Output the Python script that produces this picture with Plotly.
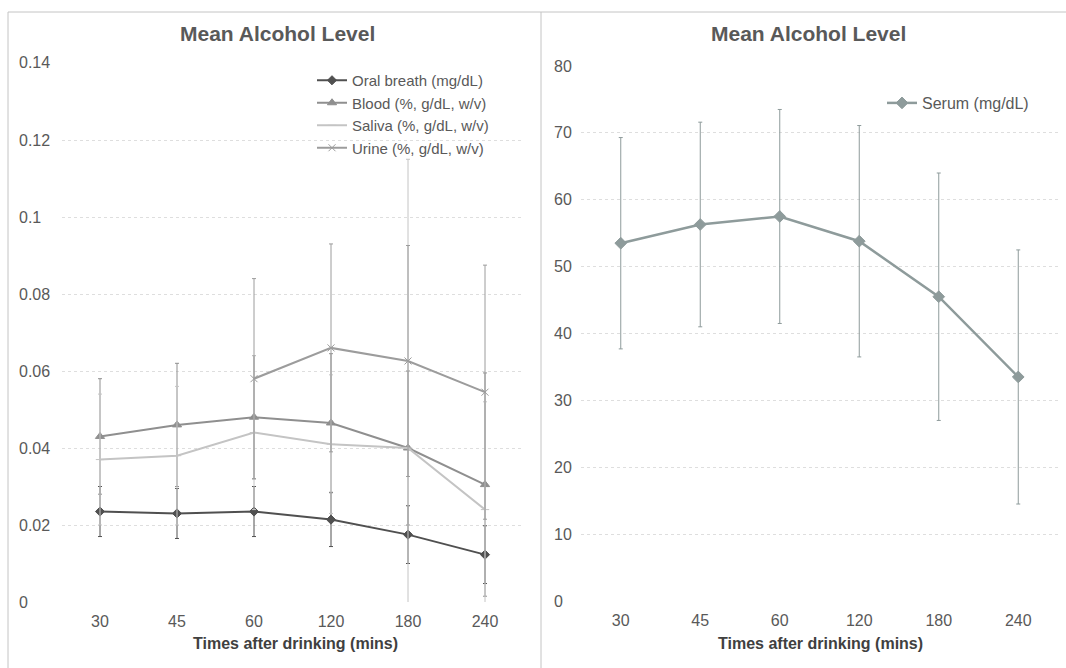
import plotly.graph_objects as go

W, H = 1066, 668

times = ["30", "45", "60", "120", "180", "240"]

oral = [0.0235, 0.0230, 0.0235, 0.0214, 0.0175, 0.0123]
oral_err = [0.0065, 0.0065, 0.0065, 0.0070, 0.0075, 0.0075]
blood = [0.043, 0.046, 0.048, 0.0465, 0.040, 0.0305]
blood_err = [0.015, 0.016, 0.016, 0.018, 0.020, 0.029]
saliva = [0.037, 0.038, 0.044, 0.041, 0.040, 0.024]
saliva_err = [0.017, 0.018, 0.020, 0.018, 0.075, 0.028]
urine = [None, None, 0.058, 0.066, 0.0626, 0.0545]
urine_err = [0, 0, 0.026, 0.027, 0.030, 0.033]

serum = [53.5, 56.3, 57.5, 53.8, 45.5, 33.5]
serum_err = [15.8, 15.3, 16.0, 17.3, 18.5, 19.0]

left_ticks = [0, 0.02, 0.04, 0.06, 0.08, 0.1, 0.12, 0.14]
left_tick_text = ["0", "0.02", "0.04", "0.06", "0.08", "0.1", "0.12", "0.14"]
right_ticks = [0, 10, 20, 30, 40, 50, 60, 70, 80]
right_tick_text = ["0", "10", "20", "30", "40", "50", "60", "70", "80"]

title_text = "Mean Alcohol Level"
xlabel = "Times after drinking (mins)"

FONT = "Liberation Sans, Arial, sans-serif"
TXT = "#595959"

fig = go.Figure()

def add_series(x, y, err, name, color, symbol, msize, lw, xa, ya, legend):
    fig.add_trace(go.Scatter(
        x=x, y=y, name=name, mode="lines+markers",
        line=dict(color=color, width=lw),
        marker=dict(symbol=symbol, size=msize, color=color,
                    line=dict(color=color, width=1)),
        error_y=dict(type="data", array=err, visible=True, color=color,
                     thickness=1, width=2),
        xaxis=xa, yaxis=ya, legend=legend, connectgaps=False,
    ))

add_series(times, oral, oral_err, "Oral breath (mg/dL)", "#505050", "diamond", 7, 2, "x", "y", "legend")
add_series(times, blood, blood_err, "Blood (%, g/dL, w/v)", "#8f8f8f", "triangle-up", 8, 2, "x", "y", "legend")
add_series(times, saliva, saliva_err, "Saliva (%, g/dL, w/v)", "#c4c4c4", "line-ew-open", 6, 2, "x", "y", "legend")
add_series(times, urine, urine_err, "Urine (%, g/dL, w/v)", "#9c9c9c", "x-thin-open", 7, 2, "x", "y", "legend")
add_series(times, serum, serum_err, "Serum (mg/dL)", "#8e9b9b", "diamond", 9, 2.5, "x2", "y2", "legend2")

# layout geometry (pixels)
lx0, lx1 = 61.5, 523.5
rx0, rx1 = 581, 1058
ly_top, ly_bot = 63, 602
ry_top, ry_bot = 66, 601

def px_x(p):
    return p / W

def px_y(p):
    return 1 - p / H

axis_common = dict(showline=False, zeroline=False, ticks="",
                   tickfont=dict(family=FONT, size=16, color=TXT))

fig.update_layout(
    width=W, height=H,
    margin=dict(l=0, r=0, t=0, b=0),
    paper_bgcolor="white", plot_bgcolor="white",
    font=dict(family=FONT, color=TXT),
    xaxis=dict(domain=[px_x(lx0), px_x(lx1)], type="category", showgrid=False,
               range=[-0.5, 5.5], anchor="y", ticklabelstandoff=8, **axis_common),
    yaxis=dict(domain=[px_y(ly_bot), px_y(ly_top)], range=[0, 0.14],
               tickvals=left_ticks, showticklabels=False, showgrid=True,
               gridcolor="#dedede", griddash="dot", gridwidth=1,
               anchor="x", **axis_common),
    xaxis2=dict(domain=[px_x(rx0), px_x(rx1)], type="category", showgrid=False,
                range=[-0.5, 5.5], anchor="y2", ticklabelstandoff=8, **axis_common),
    yaxis2=dict(domain=[px_y(ry_bot), px_y(ry_top)], range=[0, 80],
                tickvals=right_ticks, showticklabels=False, showgrid=True,
                gridcolor="#dedede", griddash="dot", gridwidth=1,
                anchor="x2", **axis_common),
    legend=dict(x=px_x(312), y=px_y(64), xanchor="left", yanchor="top",
                bgcolor="rgba(0,0,0,0)", font=dict(family=FONT, size=15, color=TXT),
                tracegroupgap=0),
    legend2=dict(x=px_x(882), y=px_y(86), xanchor="left", yanchor="top",
                 bgcolor="rgba(0,0,0,0)", font=dict(family=FONT, size=16, color=TXT)),
    showlegend=True,
)

annotations = []
for v, t in zip(left_ticks, left_tick_text):
    annotations.append(dict(x=px_x(17), xref="paper", y=v, yref="y", text=t,
                            showarrow=False, xanchor="left", yanchor="middle",
                            font=dict(family=FONT, size=16, color=TXT)))
for v, t in zip(right_ticks, right_tick_text):
    annotations.append(dict(x=px_x(552), xref="paper", y=v, yref="y2", text=t,
                            showarrow=False, xanchor="left", yanchor="middle",
                            font=dict(family=FONT, size=16, color=TXT)))
for cx in (277, 808):
    annotations.append(dict(x=px_x(cx), y=px_y(33), xref="paper", yref="paper",
                            text="<b>" + title_text + "</b>", showarrow=False,
                            xanchor="center", yanchor="middle",
                            font=dict(family=FONT, size=21, color=TXT)))
for cx in (295, 820):
    annotations.append(dict(x=px_x(cx), y=px_y(643), xref="paper", yref="paper",
                            text="<b>" + xlabel + "</b>", showarrow=False,
                            xanchor="center", yanchor="middle",
                            font=dict(family=FONT, size=16, color="#404040")))
fig.update_layout(annotations=annotations)

border = dict(color="#c4c4c4", width=1)
fig.update_layout(shapes=[
    dict(type="line", xref="paper", yref="paper", x0=px_x(8), x1=1, y0=px_y(12), y1=px_y(12), line=border),
    dict(type="line", xref="paper", yref="paper", x0=px_x(8), x1=px_x(8), y0=px_y(12), y1=0, line=border),
    dict(type="line", xref="paper", yref="paper", x0=px_x(541), x1=px_x(541), y0=px_y(12), y1=0, line=border),
])

fig.write_html("out.html")
